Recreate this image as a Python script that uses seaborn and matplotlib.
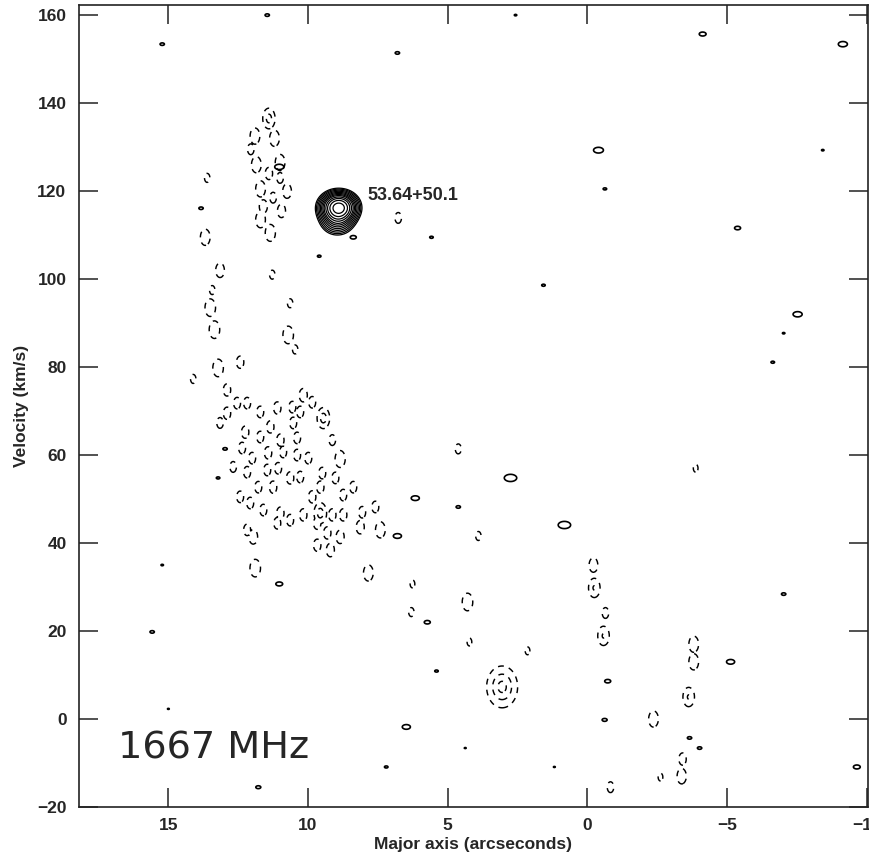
import numpy as np
import matplotlib
matplotlib.use("Agg")
import matplotlib.pyplot as plt
import seaborn as sns

# ---------------- data ----------------
# bright OH emission source 53.64+50.1 (solid, many contours)
src_x = [8.90, 8.95]
src_v = [116.3, 112.9]
src_peak = [14.0, 3.0]

# strong absorption knot (nested dashed contours)
deep_x = [3.05]
deep_v = [7.3]
deep_amp = [3.5]

# absorption features (dashed contours): offset (arcsec), velocity (km/s), depth (in units of the lowest contour)
neg_x = [11.40, 11.90, 11.20, 12.05, 11.85, 11.00, 11.40, 11.00, 11.70, 10.75, 11.25, 11.60, 10.95, 11.70, 11.35,
         13.61, 13.68, 13.15, 11.28, 13.43, 10.64, 13.50, 13.35, 10.71, 10.46, 13.22, 12.43, 14.11,
         12.90, 12.54, 12.18, 12.90, 13.15, 11.71, 11.10, 10.56, 10.17, 9.85, 10.28, 9.45, 11.35, 10.53,
         12.25, 11.71, 10.99, 10.39, 9.13, 12.36, 12.00, 11.43, 10.89, 10.39, 9.99, 8.85, 12.68, 12.18,
         11.46, 11.07, 10.64, 10.28, 11.25, 11.78, 9.49, 9.02, 9.56, 8.74, 8.38, 12.43, 12.07, 11.60,
         10.99, 10.64, 11.10, 9.85, 10.17, 9.56, 9.13, 8.74, 9.67, 9.31, 8.85, 12.18, 11.96, 9.67, 9.20,
         8.06, 7.59, 8.13, 7.41, 11.89, 7.84, 6.26, 6.30, 6.77,
         4.62, 3.90, -3.88, 2.14, 4.22, 4.29,
         -0.22, -0.25, -0.65, -0.58, -0.83,
         -3.81, -3.81, -3.63, -2.37, -3.41, -3.38, -2.62]
neg_v = [136.5, 132.5, 132.0, 129.5, 126.0, 126.5, 124.0, 123.0, 120.5, 120.0, 118.5, 116.5, 115.5, 113.5, 110.5,
         123.0, 109.5, 102.0, 101.0, 97.5, 94.5, 93.5, 88.5, 87.3, 84.0, 79.8, 81.1, 77.3,
         74.8, 71.8, 71.8, 69.5, 67.3, 69.8, 70.7, 70.9, 73.6, 72.0, 69.8, 68.4, 66.4, 67.3,
         65.2, 64.1, 63.4, 63.9, 63.4, 61.6, 59.3, 60.5, 60.7, 60.0, 59.3, 59.1, 57.3, 56.1,
         56.6, 57.0, 54.8, 55.0, 52.7, 52.7, 55.9, 54.8, 52.7, 50.9, 52.7, 50.5, 49.1, 47.5,
         46.8, 45.2, 44.5, 50.5, 46.4, 46.8, 46.4, 46.4, 44.5, 42.3, 41.4, 43.0, 41.4, 39.5, 38.4,
         47.0, 48.2, 43.6, 43.0, 34.3, 33.2, 30.7, 24.3, 113.9,
         61.4, 41.6, 57.0, 15.5, 17.5, 26.6,
         35.0, 29.8, 24.1, 18.9, -15.5,
         17.0, 13.0, 5.0, 0.0, -9.1, -13.0, -13.2]
neg_amp = [2.6, 1.8, 1.8, 1.3, 1.8, 1.8, 1.4, 1.3, 1.8, 1.6, 1.3, 1.5, 1.5, 1.8, 1.9,
           1.2, 1.8, 1.6, 1.2, 1.2, 1.2, 2.0, 2.0, 2.0, 1.2, 2.0, 1.4, 1.2,
           1.4, 1.35, 1.35, 1.4, 1.3, 1.35, 1.4, 1.35, 1.5, 1.35, 1.35, 2.7, 1.4, 1.35,
           1.4, 1.35, 1.4, 1.35, 1.3, 1.35, 1.35, 1.4, 1.35, 1.35, 1.35, 1.9, 1.3, 1.35,
           1.35, 1.35, 1.4, 1.35, 1.4, 1.35, 1.35, 1.35, 1.4, 1.35, 1.35, 1.35, 1.35, 1.35,
           1.4, 1.35, 1.35, 1.4, 1.4, 2.7, 1.4, 1.4, 1.4, 1.4, 1.5, 1.35, 1.6, 1.4, 1.5,
           1.35, 1.35, 1.5, 1.8, 2.0, 1.8, 1.15, 1.2, 1.3,
           1.25, 1.2, 1.15, 1.15, 1.15, 2.0,
           1.6, 2.3, 1.3, 2.3, 1.3,
           1.8, 1.8, 2.3, 1.8, 1.4, 1.7, 1.15]

# weak emission peaks (small solid contours)
pos_x = [15.22, 6.80, 11.46, 13.83, 8.38, 9.60, 5.58, 2.57, -4.13, -9.15, -0.40, -8.43, -0.63, -5.38,
         1.57, -7.53, -7.03, -6.64, 15.22, 11.03, 15.58, 15.00, 6.48, 7.20, 11.78, 5.40, 5.73, 6.16,
         6.80, 13.22, 12.97, 2.75, 4.62, 0.82, -7.03, -0.73, -0.62, 4.37, 1.18, -5.13, -9.65, -3.66,
         -4.02, 11.03]
pos_v = [153.4, 151.4, 160.0, 116.1, 109.5, 105.2, 109.5, 160.0, 155.7, 153.4, 129.3, 129.3, 120.5, 111.6,
         98.6, 92.0, 87.7, 81.1, 35.0, 30.7, 19.8, 2.3, -1.8, -10.9, -15.5, 10.9, 22.0, 50.2,
         41.6, 54.8, 61.4, 54.8, 48.2, 44.1, 28.4, 8.6, -0.2, -6.6, -10.9, 13.0, -10.9, -4.3,
         -6.6, 125.5]
pos_amp = [1.15, 1.15, 1.15, 1.15, 1.3, 1.1, 1.1, 1.05, 1.4, 1.8, 2.0, 1.05, 1.1, 1.3,
           1.1, 1.8, 1.05, 1.1, 1.05, 1.4, 1.15, 1.03, 1.6, 1.1, 1.2, 1.1, 1.3, 1.6,
           1.6, 1.1, 1.15, 3.0, 1.15, 3.0, 1.15, 1.3, 1.2, 1.03, 1.03, 1.6, 1.4, 1.15,
           1.15, 1.8]

src_levels = [1, 1.3, 1.7, 2.2, 2.8, 3.5, 4.3, 5.2, 6.5, 8, 10, 12.5]
weak_levels = [1]
neg_levels = [1.0, 2.2, 3.2]

x_ticks = [15, 10, 5, 0, -5, -10]
y_ticks = list(range(-20, 161, 20))

# ---------------- build intensity maps ----------------
gx = np.arange(-10.3, 18.4, 0.025)
gv = np.arange(-22.0, 164.0, 0.12)


def blob_map(xs, vs, amps, sx, sv, combine="max"):
    m = np.zeros((gv.size, gx.size))
    for x0, v0, a in zip(xs, vs, amps):
        ex = np.exp(-0.5 * ((gx - x0) / sx) ** 2)
        ev = np.exp(-0.5 * ((gv - v0) / sv) ** 2)
        b = a * np.outer(ev, ex)
        if combine == "max":
            np.maximum(m, b, out=m)
        else:
            m += b
    return m


weak = blob_map(pos_x, pos_v, pos_amp, 0.15, 0.55)
source = blob_map(src_x, src_v, src_peak, 0.36, 1.9, combine="sum")
absorption = np.maximum(blob_map(neg_x, neg_v, neg_amp, 0.16, 1.7),
                        blob_map(deep_x, deep_v, deep_amp, 0.35, 3.0))

# ---------------- figure ----------------
sns.set_style("ticks")
plt.rcParams['font.family'] = ['Liberation Sans', 'DejaVu Sans']

fig = plt.figure(figsize=(8.69, 8.58), dpi=100)
ax = fig.add_axes([79 / 869, 1 - 807 / 858, (868 - 79) / 869, (807 - 5) / 858])

ax.contour(gx, gv, weak, levels=weak_levels, colors='black', linewidths=1.2)
ax.contour(gx, gv, source, levels=src_levels, colors='black', linewidths=0.9)
cs = ax.contour(gx, gv, absorption, levels=neg_levels, colors='black', linewidths=1.05)
cs.set_linestyle((0, (4, 3.6)))

ax.set_xlim(18.2, -10.05)
ax.set_ylim(-20, 162.3)
ax.set_xticks(x_ticks)
ax.set_yticks(y_ticks)
ax.tick_params(direction='in', length=14, width=1.1, top=True, right=True,
               labelsize=12.5, color='#222222')
ax.tick_params(axis='x', pad=8)
ax.tick_params(axis='y', pad=9)
for lab in ax.get_xticklabels() + ax.get_yticklabels():
    lab.set_fontweight('bold')
for s in ax.spines.values():
    s.set_linewidth(1.2)
    s.set_color('#222222')

ax.set_xlabel('Major axis (arcseconds)', fontsize=12.5, fontweight='bold', labelpad=3)
ax.set_ylabel('Velocity (km/s)', fontsize=12.5, fontweight='bold', labelpad=6)

ax.text(16.8, -8.9, '1667 MHz', fontsize=27.5, family=['DejaVu Sans'], va='baseline', ha='left')
ax.text(7.88, 118.9, '53.64+50.1', fontsize=13, fontweight='bold', va='center', ha='left')

fig.savefig('out.png', dpi=100)
